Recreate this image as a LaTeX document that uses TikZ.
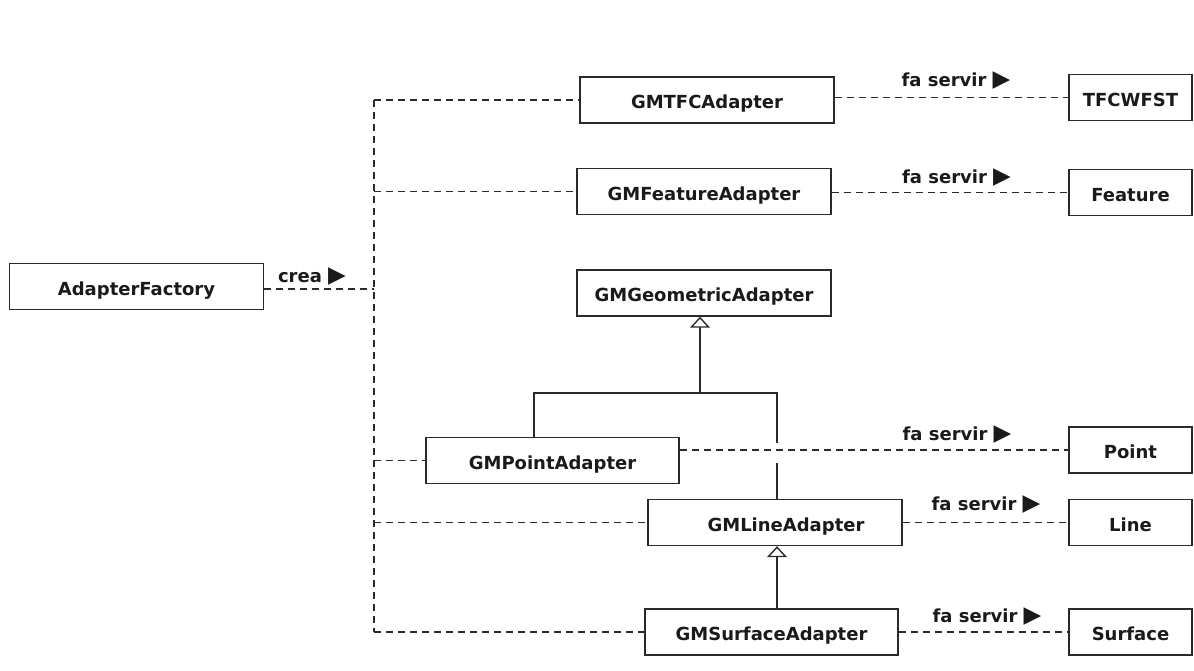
\documentclass[tikz,border=0pt]{standalone}
\usepackage{fontspec}
\setmainfont{DejaVu Sans}
\usetikzlibrary{arrows.meta}
\definecolor{ink}{HTML}{1A1A1A}
\definecolor{edge}{HTML}{2A2A2A}
\newcommand{\dirmark}{\raisebox{-0.5pt}{\fontsize{23}{23}\selectfont ▶}}
\tikzset{
  cls/.style={draw=edge, line width=1.4pt, fill=white, minimum height=46pt,
    inner sep=0pt, text=ink, text height=17pt, text depth=0pt,
    font=\fontsize{18}{21}\selectfont\bfseries},
  wide/.style={cls, minimum width=254pt},
  narrow/.style={cls, minimum width=123pt},
  dep/.style={draw=edge, line width=1.4pt, dash pattern=on 7pt off 5pt},
  solidline/.style={draw=edge, line width=1.4pt},
  inherit/.style={solidline, -{Triangle[open, width=20pt, length=11pt, fill=white]}},
  rel/.style={text=ink, inner sep=0pt, font=\fontsize{18}{21}\selectfont\bfseries},
}
\begin{document}
\begin{tikzpicture}[x=1pt, y=-1pt]
\useasboundingbox[fill=white] (0,0) rectangle (1194,670);

% classes
\node[wide] (fac) at (136.5,286.5) {AdapterFactory};
\node[wide] (tfc) at (707,100) {GMTFCAdapter};
\node[wide] (feat) at (704,191.5) {GMFeatureAdapter};
\node[wide] (geo) at (704,293) {GMGeometricAdapter};
\node[wide, minimum width=253pt] (point) at (552.5,460.5) {GMPointAdapter};
\node[wide] (line) at (775,522.5) {\hspace*{22pt}GMLineAdapter};
\node[wide, minimum width=253pt] (surf) at (771.5,632) {GMSurfaceAdapter};

\node[narrow] (tfcwfst) at (1130.5,97.5) {TFCWFST};
\node[narrow] (feature) at (1130.5,192.5) {Feature};
\node[narrow] (pointc) at (1130.5,450) {Point};
\node[narrow] (linec) at (1130.5,522.5) {Line};
\node[narrow] (surfc) at (1130.5,632) {Surface};

% creation trunk
\coordinate (tTop) at (374,100);
\coordinate (tBot) at (374,632);
\coordinate (tFac) at (374,289);
\draw[dep] (tTop) -- (tBot);
\draw[dep] (fac.east |- tFac) -- (tFac);
\draw[dep] (tTop) -- (tfc.west);
\draw[dep] (tTop |- feat.west) -- (feat.west);
\draw[dep] (tTop |- point.west) -- (point.west);
\draw[dep] (tTop |- line.west) -- (line.west);
\draw[dep] (tBot) -- (surf.west);
\node[rel] (crea) at (312,277) {crea \dirmark};

% usage links
\draw[dep] (tfc.east |- tfcwfst.west) -- (tfcwfst.west);
\draw[dep] (feat.east |- feature.west) -- (feature.west);
\draw[dep] (point.east |- pointc.west) -- (pointc.west);
\draw[dep] (line.east |- linec.west) -- (linec.west);
\draw[dep] (surf.east |- surfc.west) -- (surfc.west);
\node[rel] (r1) at (956,81) {fa servir \dirmark};
\node[rel] (r2) at (956.5,178) {fa servir \dirmark};
\node[rel] (r3) at (957,435) {fa servir \dirmark};
\node[rel] (r4) at (986,505) {fa servir \dirmark};
\node[rel] (r5) at (987,617) {fa servir \dirmark};

% generalisation
\coordinate (gj) at (700,393);
\coordinate (bl) at (534,393);
\coordinate (br) at (777,393);
\coordinate (gapA) at (777,443);
\coordinate (gapB) at (777,463);
\draw[inherit] (gj) -- (gj |- geo.south);
\draw[solidline] (bl |- point.north) -- (bl) -- (br) -- (gapA);
\draw[solidline] (gapB) -- (br |- line.north);
\draw[inherit] (br |- surf.north) -- (br |- line.south);
\end{tikzpicture}
\end{document}
